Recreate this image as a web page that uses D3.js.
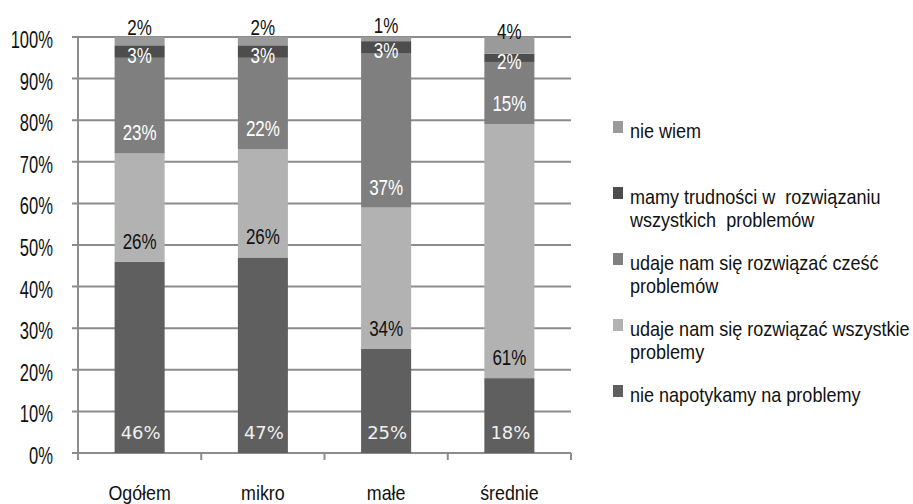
<!DOCTYPE html>
<html><head><meta charset="utf-8">
<script src="https://cdn.jsdelivr.net/npm/d3@7"></script>
<style>body{margin:0;background:#fff}svg{display:block}</style>
</head><body>
<svg id="c" width="913" height="504"></svg>
<script>
const categories = ["Ogółem", "mikro", "małe", "średnie"];
const seriesNames = [
  "nie napotykamy na problemy",
  "udaje nam się rozwiązać wszystkie problemy",
  "udaje nam się rozwiązać cześć problemów",
  "mamy trudności w rozwiązaniu wszystkich problemów",
  "nie wiem"
];
const legendLines = [
  ["nie napotykamy na problemy"],
  ["udaje nam się rozwiązać wszystkie", "problemy"],
  ["udaje nam się rozwiązać cześć", "problemów"],
  ["mamy trudności w  rozwiązaniu", "wszystkich  problemów"],
  ["nie wiem"]
];
const nieNapotykamy = [46, 47, 25, 18];
const wszystkie = [26, 26, 34, 61];
const czesc = [23, 22, 37, 15];
const trudnosci = [3, 3, 3, 2];
const nieWiem = [2, 2, 1, 4];
const yTicks = [0, 10, 20, 30, 40, 50, 60, 70, 80, 90, 100];

const seriesValues = [nieNapotykamy, wszystkie, czesc, trudnosci, nieWiem];
const colors = ["#5f5f5f", "#b2b2b2", "#7f7f7f", "#4d4d4d", "#9a9a9a"];

const svg = d3.select("#c");
const pL = 78, pR = 571, pT = 37, pB = 453;

const x = d3.scaleBand().domain(categories).range([pL, pR]).paddingInner(0.594).paddingOuter(0.297);
const y = d3.scaleLinear().domain([0, 100]).range([pB, pT]);

const rows = categories.map((c, i) => {
  const r = {cat: c};
  seriesNames.forEach((s, k) => r[s] = seriesValues[k][i]);
  return r;
});
const stacked = d3.stack().keys(seriesNames)(rows);

const gridColor = "#8c8c8c";
svg.append("g").selectAll("line").data(yTicks).join("line")
  .attr("x1", pL - 6).attr("x2", pR)
  .attr("y1", d => y(d)).attr("y2", d => y(d))
  .attr("stroke", gridColor).attr("stroke-width", 2);
svg.append("line").attr("x1", pL).attr("x2", pL).attr("y1", pT).attr("y2", pB + 1)
  .attr("stroke", gridColor).attr("stroke-width", 2);
const step = x.step();
const bounds = d3.range(categories.length + 1).map(i => pL + i * step);
svg.append("g").selectAll("line").data(bounds).join("line")
  .attr("x1", d => d).attr("x2", d => d).attr("y1", pB).attr("y2", pB + 7)
  .attr("stroke", gridColor).attr("stroke-width", 2);

function sText(g, xx, yy, txt, size, sx, anchor, fill, family) {
  const gg = g.append("g").attr("transform", `translate(${xx},${yy})`);
  gg.append("text").attr("transform", `scale(${sx},1)`)
    .attr("text-anchor", anchor).attr("font-family", family || "'Liberation Sans', Arial, sans-serif")
    .attr("font-size", size).attr("fill", fill).style("white-space", "pre").text(txt);
  return gg;
}
const yl = svg.append("g");
yTicks.forEach(t => sText(yl, 53, y(t) + 11, t + "%", 23, 0.72, "end", "#111"));

const xl = svg.append("g");
categories.forEach(c => sText(xl, x(c) + x.bandwidth() / 2, 500, c, 21, 0.85, "middle", "#111"));

stacked.forEach((layer, k) => {
  svg.append("g").selectAll("rect").data(layer).join("rect")
    .attr("x", d => x(d.data.cat)).attr("width", x.bandwidth())
    .attr("y", d => y(d[1])).attr("height", d => y(d[0]) - y(d[1]))
    .attr("fill", colors[k]);
});

const lg = svg.append("g");
stacked.forEach((layer, k) => {
  layer.forEach(d => {
    const y0 = y(d[0]), y1 = y(d[1]);
    const h = y0 - y1, c = (y0 + y1) / 2;
    let ly;
    if (k === seriesNames.length - 1) ly = c - 14;
    else if (h < 30) ly = c + 3;
    else ly = y0 - 21;
    const cx = x(d.data.cat) + x.bandwidth() / 2;
    const val = d[1] - d[0];
    const fill = (k === 1 || k === 4) ? "#111" : "#fff";
    if (k === 0) {
      sText(lg, cx + 1, ly + 7, val + "%", 18, 1, "middle", "#f0f0f0", "'DejaVu Sans', Verdana, sans-serif");
    } else {
      sText(lg, cx, ly + 8, val + "%", 22.5, 0.755, "middle", fill);
    }
  });
});

const leg = svg.append("g");
const order = d3.range(seriesNames.length).reverse();
order.forEach((k, i) => {
  const cy = 130 + i * 66;
  leg.append("rect").attr("x", 613).attr("y", cy - 9).attr("width", 10).attr("height", 12).attr("fill", colors[k]);
  legendLines[k].forEach((ln, j) => {
    sText(leg, 630, cy + 7.5 + j * 23, ln, 20.5, 0.88, "start", "#111");
  });
});
</script>
</body></html>
